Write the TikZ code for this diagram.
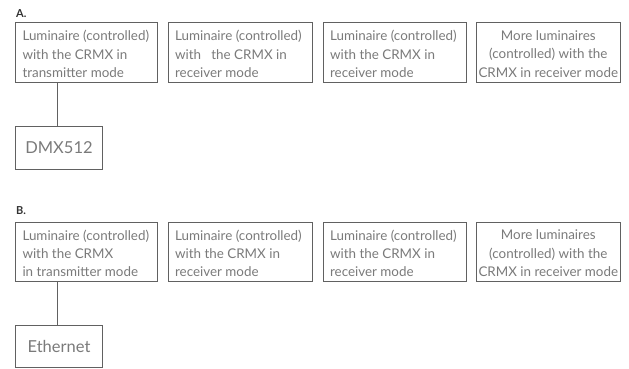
\documentclass[tikz,border=0pt]{standalone}
\usepackage{fontspec}
\setmainfont{Lato}
\begin{document}
\begin{tikzpicture}[x=1pt,y=-1pt,
  box/.style={draw=black!62,line width=0.8pt,minimum height=59.6pt,inner sep=0pt},
  txt/.style={inner sep=0pt,font=\fontsize{13.4}{18.3}\selectfont,text=black!52},
  ltxt/.style={txt,align=left,anchor=west},
  ctxt/.style={txt,align=center},
  ebox/.style={draw=black!62,line width=0.8pt,inner sep=0pt,
    font=\fontsize{16.5}{18}\selectfont,text=black!52},
  sec/.style={anchor=west,inner sep=0pt,font=\fontsize{11}{12}\selectfont\bfseries,text=black!80},
  link/.style={draw=black!62,line width=0.8pt}]
\useasboundingbox (0,0) rectangle (629,368);
% Row A
\node[sec] (la) at (16,13.5) {A.};
\node[box,minimum width=141.6pt] (a1) at (86.5,52.5) {};
\node[box,minimum width=144pt] (a2) at (240.3,52.5) {};
\node[box,minimum width=143.4pt] (a3) at (395,52.5) {};
\node[box,minimum width=143.3pt] (a4) at (548.3,52.5) {};
\node[ltxt] (ta1) at ([xshift=7pt,yshift=-1.5pt]a1.west)
  {Luminaire (controlled)\\with the CRMX in\\transmitter mode};
\node[ltxt] (ta2) at ([xshift=7pt,yshift=-1.5pt]a2.west)
  {Luminaire (controlled)\\with \ \ the CRMX in\\receiver mode};
\node[ltxt] (ta3) at ([xshift=7pt,yshift=-1.5pt]a3.west)
  {Luminaire (controlled)\\with the CRMX in\\receiver mode};
\node[ctxt] (ta4) at ([yshift=-1.5pt]a4.center)
  {More luminaires\\(controlled) with the\\CRMX in receiver mode};
\node[ebox,minimum width=86.6pt,minimum height=43.3pt] (dmx) at (59,147.7) {DMX512};
\draw[link] (dmx.north -| 57.7,0) -- (a1.south -| 57.7,0);
% Row B
\node[sec] (lb) at (16,211) {B.};
\node[box,minimum width=141.6pt] (b1) at (86.5,251.7) {};
\node[box,minimum width=144pt] (b2) at (240.3,251.7) {};
\node[box,minimum width=143.4pt] (b3) at (395,251.7) {};
\node[box,minimum width=143.3pt] (b4) at (548.3,251.7) {};
\node[ltxt] (tb1) at ([xshift=7pt,yshift=-1.5pt]b1.west)
  {Luminaire (controlled)\\with the CRMX\\in transmitter mode};
\node[ltxt] (tb2) at ([xshift=7pt,yshift=-1.5pt]b2.west)
  {Luminaire (controlled)\\with the CRMX in\\receiver mode};
\node[ltxt] (tb3) at ([xshift=7pt,yshift=-1.5pt]b3.west)
  {Luminaire (controlled)\\with the CRMX in\\receiver mode};
\node[ctxt] (tb4) at ([yshift=-1.5pt]b4.center)
  {More luminaires\\(controlled) with the\\CRMX in receiver mode};
\node[ebox,minimum width=86.6pt,minimum height=42pt] (eth) at (59,346) {Ethernet};
\draw[link] (eth.north -| 57.7,0) -- (b1.south -| 57.7,0);
\end{tikzpicture}
\end{document}
